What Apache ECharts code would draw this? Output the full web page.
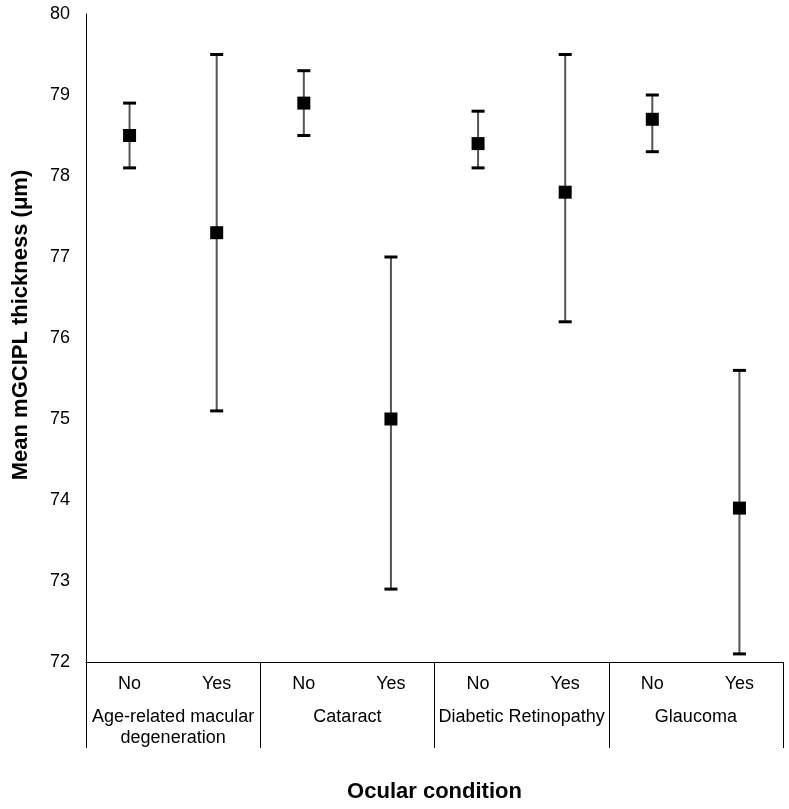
<!DOCTYPE html>
<html>
<head>
<meta charset="utf-8">
<script src="https://cdn.jsdelivr.net/npm/echarts@6/dist/echarts.min.js"></script>
<style>html,body{margin:0;padding:0;background:#fff}#c{width:789px;height:809px}</style>
</head>
<body>
<div id="c"></div>
<script>
const subCategories = ['No','Yes','No','Yes','No','Yes','No','Yes'];
const groups = ['Age-related macular\ndegeneration','Cataract','Diabetic Retinopathy','Glaucoma'];
const means = [78.5, 77.3, 78.9, 75.0, 78.4, 77.8, 78.7, 73.9];
const lower = [78.1, 75.1, 78.5, 72.9, 78.1, 76.2, 78.3, 72.1];
const upper = [78.9, 79.5, 79.3, 77.0, 78.8, 79.5, 79.0, 75.6];
const yTicks = {min: 72, max: 80, interval: 1};

const font = 'Liberation Sans, Arial, sans-serif';
const chart = echarts.init(document.getElementById('c'));
const errData = means.map((m, i) => [i, lower[i], upper[i]]);
const meanData = means.map((m, i) => [i, m]);

chart.setOption({
  animation: false,
  grid: {left: 86, top: 14, right: 6, bottom: 147, containLabel: false, outerBoundsMode: 'none'},
  xAxis: [
    {
      type: 'category', data: subCategories, position: 'bottom',
      axisLine: {show: true, lineStyle: {color: '#000', width: 1}},
      axisTick: {show: false},
      axisLabel: {color: '#000', fontSize: 18, fontFamily: font, margin: 13, interval: 0},
      splitLine: {show: false}
    },
    {
      type: 'category', data: groups, position: 'bottom', gridIndex: 0,
      axisLine: {show: false},
      axisTick: {show: true, length: 86, lineStyle: {color: '#000', width: 1}},
      axisLabel: {color: '#000', fontSize: 18, fontFamily: font, margin: 45, lineHeight: 21, interval: 0},
      splitLine: {show: false},
      name: 'Ocular condition', nameLocation: 'middle', nameGap: 119,
      nameTextStyle: {color: '#000', fontSize: 22, fontWeight: 'bold', fontFamily: font}
    }
  ],
  yAxis: {
    type: 'value', min: yTicks.min, max: yTicks.max, interval: yTicks.interval,
    axisLine: {show: true, lineStyle: {color: '#000', width: 1}},
    axisTick: {show: false},
    splitLine: {show: false},
    axisLabel: {color: '#000', fontSize: 18, fontFamily: font, margin: 16},
    name: 'Mean mGCIPL thickness (μm)', nameLocation: 'middle', nameGap: 54,
    nameTextStyle: {color: '#000', fontSize: 22, fontWeight: 'bold', fontFamily: font, padding: [0, 0, 0, 26]}
  },
  series: [
    {
      type: 'custom', xAxisIndex: 0, z: 2,
      data: errData,
      renderItem: function (params, api) {
        const x = api.value(0);
        const lo = api.coord([x, api.value(1)]);
        const hi = api.coord([x, api.value(2)]);
        const hw = 6.5;
        return {
          type: 'group',
          children: [
            {type: 'line', shape: {x1: lo[0], y1: lo[1], x2: hi[0], y2: hi[1]}, style: {stroke: '#555', lineWidth: 2}},
            {type: 'line', shape: {x1: lo[0]-hw, y1: lo[1], x2: lo[0]+hw, y2: lo[1]}, style: {stroke: '#000', lineWidth: 3}},
            {type: 'line', shape: {x1: hi[0]-hw, y1: hi[1], x2: hi[0]+hw, y2: hi[1]}, style: {stroke: '#000', lineWidth: 3}}
          ]
        };
      }
    },
    {
      type: 'scatter', xAxisIndex: 0, z: 3,
      data: meanData, symbol: 'rect', symbolSize: 13,
      itemStyle: {color: '#000', opacity: 1}
    }
  ]
});
</script>
</body>
</html>
